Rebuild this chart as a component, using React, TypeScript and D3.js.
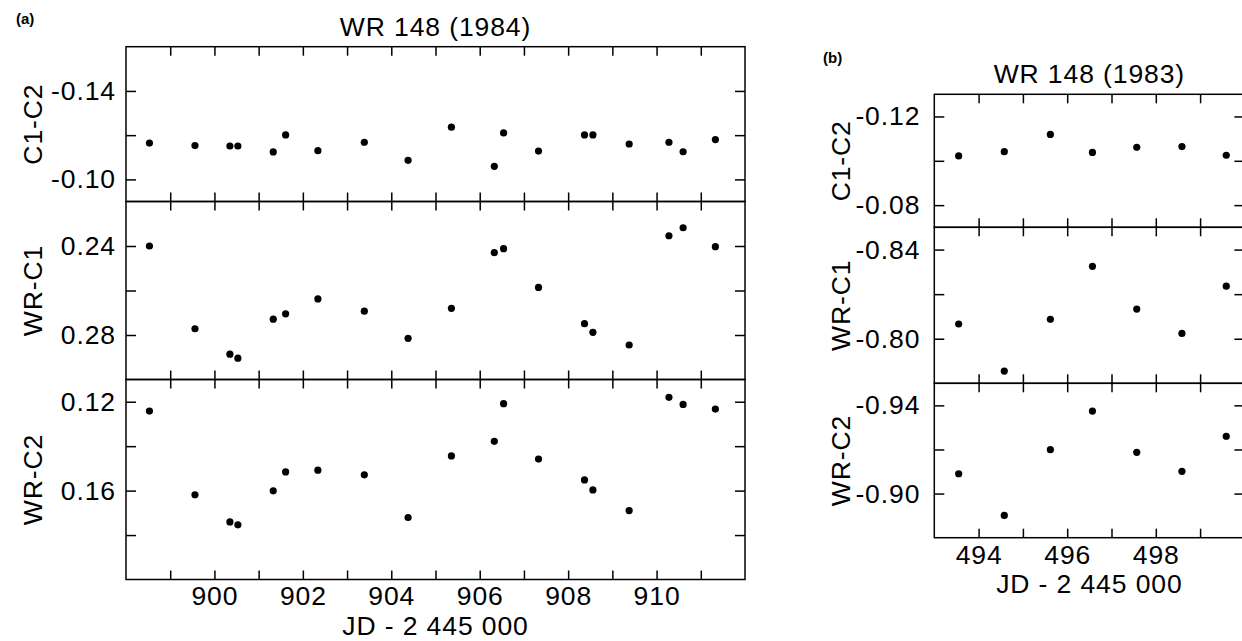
import * as d3 from "d3";
import React, { useEffect, useRef } from "react";

// JD - 2 445 000, 1984 run
const jd1984 = [898.53, 899.56, 900.35, 900.53, 901.33, 901.61, 902.34, 903.39, 904.38, 905.36, 906.33, 906.54, 907.33, 908.37, 908.56, 909.38, 910.28, 910.6, 911.33];
const c1c2_1984 = [-0.1164, -0.1153, -0.1151, -0.1151, -0.1124, -0.1201, -0.113, -0.1168, -0.1086, -0.1236, -0.1059, -0.121, -0.1128, -0.1201, -0.1201, -0.116, -0.1168, -0.1125, -0.118];
const wrc1_1984 = [0.24, 0.2772, 0.2886, 0.2904, 0.2729, 0.2705, 0.2638, 0.2693, 0.2815, 0.268, 0.243, 0.2412, 0.2586, 0.2749, 0.2788, 0.2845, 0.2354, 0.2318, 0.2403];
const wrc2_1984 = [0.1242, 0.1619, 0.1741, 0.1754, 0.1601, 0.1516, 0.1508, 0.1529, 0.1721, 0.1444, 0.1378, 0.1209, 0.1458, 0.1552, 0.1597, 0.169, 0.118, 0.1212, 0.1233];

// 1983 run
const jd1983 = [493.55, 494.58, 495.62, 496.57, 497.57, 498.59, 499.59];
const c1c2_1983 = [-0.1022, -0.1041, -0.1119, -0.1038, -0.1061, -0.1064, -0.1025];
const wrc1_1983 = [-0.8066, -0.7855, -0.8087, -0.8325, -0.8133, -0.8024, -0.8236];
const wrc2_1983 = [-0.909, -0.8901, -0.9199, -0.9374, -0.9187, -0.9101, -0.926];

// axis ticks
const xTicks1984 = d3.range(899, 912);
const xLabels1984 = [900, 902, 904, 906, 908, 910];
const xTicks1983 = d3.range(494, 500);
const xLabels1983 = [494, 496, 498];

const FONT = "'Liberation Sans', Arial, Helvetica, sans-serif";
const FS = 26.5;
const LS = 0.9;

const panels = [
  {
    tag: "(a)", tagX: 16, tagY: 24,
    title: "WR 148 (1984)",
    left: 126, right: 745,
    xDomain: [898, 912], xTicks: xTicks1984, xLabels: xLabels1984,
    labelX: 42, padY: 10,
    jd: jd1984,
    rows: [
      { name: "C1-C2", top: 46.7, bottom: 201.5, domain: [-0.16, -0.09], ticks: [-0.14, -0.12, -0.1], labels: [-0.14, -0.1], values: c1c2_1984 },
      { name: "WR-C1", top: 201.5, bottom: 379.5, domain: [0.22, 0.3], ticks: [0.24, 0.26, 0.28], labels: [0.24, 0.28], values: wrc1_1984 },
      { name: "WR-C2", top: 379.5, bottom: 579.5, domain: [0.11, 0.2], ticks: [0.12, 0.14, 0.16, 0.18], labels: [0.12, 0.16], values: wrc2_1984 },
    ],
  },
  {
    tag: "(b)", tagX: 823, tagY: 63,
    title: "WR 148 (1983)",
    left: 934.3, right: 1244.4,
    xDomain: [493, 500], xTicks: xTicks1983, xLabels: xLabels1983,
    labelX: 850, padY: 14,
    jd: jd1983,
    rows: [
      { name: "C1-C2", top: 94.3, bottom: 227.3, domain: [-0.13, -0.07], ticks: [-0.12, -0.1, -0.08], labels: [-0.12, -0.08], values: c1c2_1983 },
      { name: "WR-C1", top: 227.3, bottom: 383.3, domain: [-0.85, -0.78], ticks: [-0.84, -0.82, -0.8], labels: [-0.84, -0.8], values: wrc1_1983 },
      { name: "WR-C2", top: 383.3, bottom: 537.7, domain: [-0.95, -0.88], ticks: [-0.94, -0.92, -0.9], labels: [-0.94, -0.9], values: wrc2_1983 },
    ],
  },
];

const has = (list, v) => list.some((l) => Math.abs(l - v) < 1e-9);

const App = () => {
  const ref = useRef(null);

  useEffect(() => {
    const svg = d3.select(ref.current);
    svg.selectAll("*").remove();

    const styleAxis = (g) => {
      g.select(".domain").remove();
      g.attr("font-family", FONT).attr("font-size", FS);
      g.selectAll("line").attr("stroke-width", 1.5);
      g.selectAll("text").attr("letter-spacing", LS).attr("fill", "#000");
    };

    panels.forEach((p) => {
      const x = d3.scaleLinear().domain(p.xDomain).range([p.left, p.right]);
      const top = p.rows[0].top;
      const last = p.rows[p.rows.length - 1];

      svg.append("text")
        .attr("x", p.tagX).attr("y", p.tagY)
        .attr("font-family", FONT).attr("font-size", 15).attr("font-weight", "bold")
        .text(p.tag);

      svg.append("text")
        .attr("x", (p.left + p.right) / 2).attr("y", top - 11)
        .attr("text-anchor", "middle")
        .attr("font-family", FONT).attr("font-size", FS).attr("letter-spacing", LS)
        .text(p.title);

      p.rows.forEach((r, ri) => {
        const y = d3.scaleLinear().domain(r.domain).range([r.top, r.bottom]);
        const isLast = ri === p.rows.length - 1;

        svg.append("g")
          .attr("transform", `translate(${p.left},0)`)
          .call(d3.axisLeft(y).tickValues(r.ticks).tickSize(-10).tickSizeOuter(0).tickPadding(p.padY)
            .tickFormat((d) => (has(r.labels, d) ? d.toFixed(2) : "")))
          .call(styleAxis);

        svg.append("g")
          .attr("transform", `translate(${p.right},0)`)
          .call(d3.axisRight(y).tickValues(r.ticks).tickSize(-10).tickSizeOuter(0).tickFormat(() => ""))
          .call(styleAxis);

        svg.append("g")
          .attr("transform", `translate(0,${r.top})`)
          .call(d3.axisTop(x).tickValues(p.xTicks).tickSize(-9).tickSizeOuter(0).tickFormat(() => ""))
          .call(styleAxis);

        svg.append("g")
          .attr("transform", `translate(0,${r.bottom})`)
          .call(d3.axisBottom(x).tickValues(p.xTicks).tickSize(-9).tickSizeOuter(0).tickPadding(7)
            .tickFormat((d) => (isLast && has(p.xLabels, d) ? String(d) : "")))
          .call(styleAxis);

        svg.append("rect")
          .attr("x", p.left).attr("y", r.top)
          .attr("width", p.right - p.left).attr("height", r.bottom - r.top)
          .attr("fill", "none").attr("stroke", "#000").attr("stroke-width", 1.5);

        svg.append("g")
          .selectAll("circle")
          .data(r.values)
          .enter()
          .append("circle")
          .attr("cx", (d, i) => x(p.jd[i]))
          .attr("cy", (d) => y(d))
          .attr("r", 3.6)
          .attr("fill", "#000");

        svg.append("text")
          .attr("transform", `translate(${p.labelX},${(r.top + r.bottom) / 2}) rotate(-90)`)
          .attr("text-anchor", "middle")
          .attr("font-family", FONT).attr("font-size", FS).attr("letter-spacing", LS)
          .text(r.name);
      });

      // x axis title
      svg.append("text")
        .attr("x", (p.left + p.right) / 2).attr("y", last.bottom + 55)
        .attr("text-anchor", "middle")
        .attr("font-family", FONT).attr("font-size", FS).attr("letter-spacing", LS)
        .text("JD - 2 445 000");
    });
  }, []);

  return (
    <svg
      ref={ref}
      width={1242}
      height={641}
      style={{ position: "absolute", left: 0, top: 0, background: "#fff" }}
    ></svg>
  );
};

export default App;
